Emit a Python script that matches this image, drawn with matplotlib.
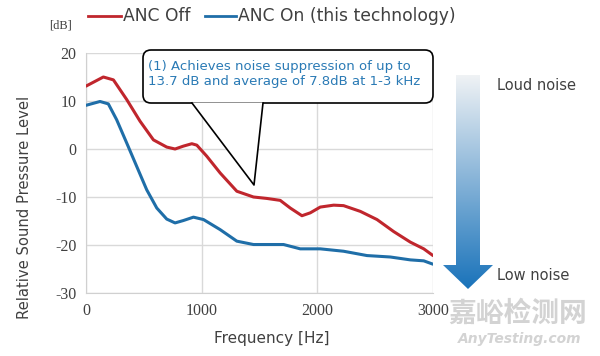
import numpy as np
import matplotlib.pyplot as plt
from matplotlib.patches import FancyBboxPatch, Polygon

plt.rcParams['axes.unicode_minus'] = False

# ANC Off (red)
off_freq = [0, 150, 237, 352, 467, 583, 698, 770, 842, 915, 958, 1044, 1160, 1304,
            1448, 1564, 1679, 1766, 1867, 1939, 2025, 2141, 2227, 2372, 2516, 2660,
            2804, 2920, 3000]
off_db = [13.1, 15.0, 14.4, 10.3, 5.8, 1.9, 0.4, 0.0, 0.6, 1.1, 0.8, -1.5, -5.0, -8.8,
          -10.0, -10.3, -10.7, -12.3, -13.9, -13.3, -12.1, -11.7, -11.8, -13.0, -14.7,
          -17.2, -19.4, -20.8, -22.2]

# ANC On (blue)
on_freq = [0, 121, 193, 265, 352, 438, 525, 612, 698, 770, 842, 929, 1016, 1160, 1304,
           1448, 1621, 1708, 1852, 2025, 2227, 2429, 2631, 2804, 2920, 3000]
on_db = [9.1, 9.9, 9.4, 6.1, 1.25, -3.6, -8.5, -12.3, -14.6, -15.4, -14.9, -14.2, -14.7,
         -16.8, -19.2, -19.9, -19.9, -19.9, -20.8, -20.8, -21.3, -22.2, -22.5, -23.1,
         -23.3, -24.0]

xticks = [0, 1000, 2000, 3000]
yticks = [-30, -20, -10, 0, 10, 20]

red = '#c0262d'
blue = '#1f6ea8'
txt = '#404040'

fig = plt.figure(figsize=(6, 3.56), dpi=100)
ax = fig.add_axes([86 / 600, 1 - 293 / 356, 347 / 600, 240 / 356])

ax.plot(off_freq, off_db, color=red, lw=2.2, solid_capstyle='round',
        solid_joinstyle='round', zorder=3)
ax.plot(on_freq, on_db, color=blue, lw=2.2, solid_capstyle='round',
        solid_joinstyle='round', zorder=3)

ax.set_xlim(0, 3000)
ax.set_ylim(-30, 20)
ax.set_xticks(xticks)
ax.set_yticks(yticks)
ax.grid(color='#d9d9d9', lw=1)
ax.set_axisbelow(True)
for s in ['top', 'right']:
    ax.spines[s].set_visible(False)
for s in ['left', 'bottom']:
    ax.spines[s].set_color('#d0d0d0')
ax.tick_params(length=0, pad=7, labelsize=11.5, labelcolor=txt)
for lab in ax.get_xticklabels() + ax.get_yticklabels():
    lab.set_family('Liberation Serif')

# overlay axes in pixel coordinates
ov = fig.add_axes([0, 0, 1, 1], facecolor='none')
ov.set_xlim(0, 600)
ov.set_ylim(356, 0)
ov.axis('off')

ov.text(272, 339, 'Frequency [Hz]', fontsize=11, color=txt, va='center', ha='center')
ov.text(25, 207, 'Relative Sound Pressure Level', fontsize=10.6, color=txt,
        va='center', ha='center', rotation=90)

# callout box
box = FancyBboxPatch((143, 50), 290, 53, boxstyle='round,pad=0,rounding_size=8',
                     fc='white', ec='black', lw=1.2, zorder=5)
ov.add_patch(box)
tail = Polygon([(192, 102.5), (254, 185), (263, 102.5)], closed=True,
               fc='white', ec='none', zorder=6)
ov.add_patch(tail)
ov.plot([192, 254, 263], [103, 185, 103], color='black', lw=1.2, zorder=7)
ov.text(148, 74, '(1) Achieves noise suppression of up to\n13.7 dB and average of 7.8dB at 1-3 kHz',
        color='#2a7ab5', fontsize=9.5, va='center', ha='left', linespacing=1.2, zorder=8)

# legend
ov.plot([88, 121], [16, 16], color=red, lw=2)
ov.text(123, 16, 'ANC Off', fontsize=12.3, color=txt, va='center', ha='left')
ov.plot([205, 236], [16, 16], color=blue, lw=2)
ov.text(238, 16, 'ANC On (this technology)', fontsize=12.3, color=txt, va='center', ha='left')
ov.text(60, 26, '[dB]', fontsize=9, color=txt, va='center', ha='center', family='Liberation Serif')

# gradient arrow
arrow = Polygon([(456, 75), (480, 75), (480, 265), (493, 265), (468, 289),
                 (443, 265), (456, 265)], closed=True, fc='none', ec='none')
ov.add_patch(arrow)
grad = np.linspace(0, 1, 256).reshape(-1, 1)
c_top = np.array([0.94, 0.95, 0.96])
c_bot = np.array([0.10, 0.45, 0.73])
img = c_top[None, None, :] * (1 - grad[..., None]) + c_bot[None, None, :] * grad[..., None]
im = ov.imshow(img, extent=[443, 493, 289, 75], aspect='auto', zorder=2)
im.set_clip_path(arrow)
ov.set_xlim(0, 600)
ov.set_ylim(356, 0)

ov.text(497, 86, 'Loud noise', fontsize=10.5, color=txt, va='center', ha='left')
ov.text(497, 276, 'Low noise', fontsize=10.5, color=txt, va='center', ha='left')

# watermark
ov.text(518, 314, '嘉峪检测网', fontsize=20, color='#c8c8c8', va='center', ha='center',
        family=['Noto Sans CJK SC', 'DejaVu Sans'], weight='bold', alpha=0.8)
ov.text(520, 339, 'AnyTesting.com', fontsize=10, color='#c8c8c8', va='center', ha='center',
        style='italic', weight='bold', alpha=0.8)

fig.savefig('out.png', dpi=100)
